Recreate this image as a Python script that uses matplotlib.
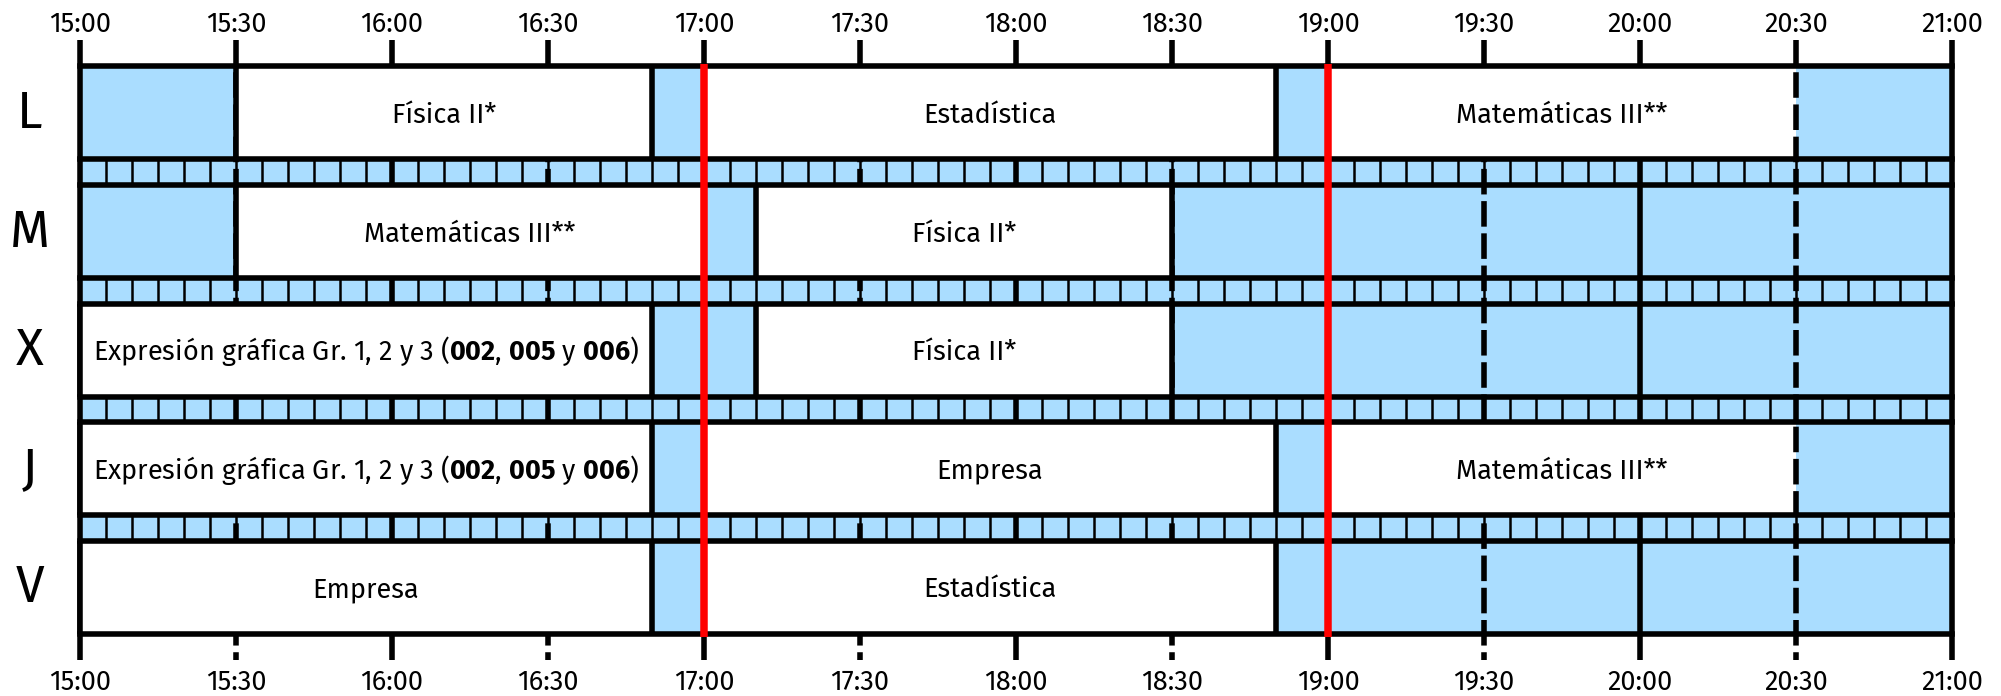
import matplotlib
matplotlib.use("Agg")
import matplotlib.pyplot as plt
from matplotlib.patches import Rectangle
from matplotlib.font_manager import fontManager

# pick a humanist sans with static (non variable) regular + bold files
static_fonts = {f.name for f in fontManager.ttflist if "[" not in f.fname}
FONT = next(f for f in ["Source Sans Pro", "Fira Sans", "Lato", "DejaVu Sans"] if f in static_fonts)
plt.rcParams["font.family"] = [FONT, "DejaVu Sans"]
plt.rcParams["mathtext.fontset"] = "custom"
plt.rcParams["mathtext.rm"] = FONT
plt.rcParams["mathtext.bf"] = FONT + ":bold"
TXT = 21 if FONT == "Source Sans Pro" else 19.5

# timetable data
days = ["L", "M", "X", "J", "V"]
day_start = "15:00"
day_end = "21:00"
red_marks = ["17:00", "19:00"]

session_days = ["L", "L", "L", "M", "M", "X", "X", "J", "J", "J", "V", "V"]
session_starts = ["15:30", "17:00", "19:00", "15:30", "17:10", "15:00",
                  "17:10", "15:00", "17:00", "19:00", "15:00", "17:00"]
session_ends = ["16:50", "18:50", "20:30", "17:00", "18:30", "16:50",
                "18:30", "16:50", "18:50", "20:30", "16:50", "18:50"]
expr = "Expresión gráfica Gr. 1, 2 y 3 ($\\mathbf{002}$, $\\mathbf{005}$ y $\\mathbf{006}$)"
session_labels = ["Física II*", "Estadística", "Matemáticas III**",
                  "Matemáticas III**", "Física II*",
                  expr, "Física II*",
                  expr, "Empresa", "Matemáticas III**",
                  "Empresa", "Estadística"]


def to_min(hhmm):
    h, m = hhmm.split(":")
    return (int(h) - 15) * 60 + int(m)


T0, T1 = to_min(day_start), to_min(day_end)
PX_MIN = 5.2          # pixels per minute
ROW_H = 1.0           # height of a day row
GAP = 0.275           # height of the 5-minute strip between rows
PX_ROW = 93.0
TOP_PX = 66.5

BLUE = "#aaddff"
LW = 4.0

fig = plt.figure(figsize=(20.01, 6.96), dpi=100)
ax = fig.add_axes([0, 0, 1, 1])
ax.set_xlim(-80 / PX_MIN, T1 + (2001 - 1952) / PX_MIN)
ax.set_ylim((696 - TOP_PX) / PX_ROW, -TOP_PX / PX_ROW)
ax.axis("off")

row_top = {d: i * (ROW_H + GAP) for i, d in enumerate(days)}
y_bottom = row_top[days[-1]] + ROW_H
tick_top = (40 - TOP_PX) / PX_ROW
tick_bot = (660 - TOP_PX) / PX_ROW

# blue background = free time
ax.add_patch(Rectangle((T0, 0), T1 - T0, y_bottom, facecolor=BLUE,
                       edgecolor="none", zorder=1))

# thin 5 minute marks in the strips between rows
for d in days[:-1]:
    s0 = row_top[d] + ROW_H
    ax.vlines(range(T0, T1 + 1, 5), s0, s0 + GAP, color="black", lw=1.8, zorder=2)

# hour / half hour grid lines (also make the ticks above and below)
dash = (0, (18.4 / LW, 4.8 / LW))
for t in range(T0, T1 + 1, 30):
    ls = "-" if t % 60 == 0 else dash
    ax.plot([t, t], [tick_top, tick_bot], color="black", lw=LW,
            ls=ls, solid_capstyle="butt", dash_capstyle="butt", zorder=3)

# classes
for d, s, e, lab in zip(session_days, session_starts, session_ends, session_labels):
    a, b = to_min(s), to_min(e)
    top = row_top[d]
    box = Rectangle((a, top), b - a, ROW_H, facecolor="white", edgecolor="none", zorder=4)
    ax.add_patch(box)
    ax.plot([a, a], [top, top + ROW_H], color="black", lw=LW, solid_capstyle="butt", zorder=5)
    if b == to_min("20:30"):
        # the evening block keeps the dashed half-hour line as its edge
        ln, = ax.plot([b, b], [tick_top, tick_bot], color="black", lw=LW, ls=dash,
                      dash_capstyle="butt", zorder=5)
        ln.set_clip_path(box)
    else:
        ax.plot([b, b], [top, top + ROW_H], color="black", lw=LW, solid_capstyle="butt", zorder=5)
    ax.text((a + b) / 2, top + ROW_H / 2 + 10 / PX_ROW, lab, fontsize=TXT,
            ha="center", va="baseline", color="black", zorder=8)

# row borders
for d in days:
    for y in (row_top[d], row_top[d] + ROW_H):
        ax.plot([T0, T1], [y, y], color="black", lw=LW, solid_capstyle="projecting", zorder=6)

# red marks
for r in red_marks:
    t = to_min(r)
    ax.plot([t, t], [-2.75 / PX_ROW, y_bottom + 2.75 / PX_ROW], color="#ff0000",
            lw=5.4, solid_capstyle="butt", zorder=7)

# time labels
for t in range(T0, T1 + 1, 30):
    lab = f"{15 + t // 60}:{t % 60:02d}"
    ax.text(t, (32 - TOP_PX) / PX_ROW, lab, fontsize=TXT, ha="center", va="baseline")
    ax.text(t, (690 - TOP_PX) / PX_ROW, lab, fontsize=TXT, ha="center", va="baseline")

# day labels
for d in days:
    ax.text(-50 / PX_MIN, row_top[d] + ROW_H / 2 + 15 / PX_ROW, d, fontsize=TXT * 1.9,
            ha="center", va="baseline")

fig.savefig("out.png", dpi=100)
